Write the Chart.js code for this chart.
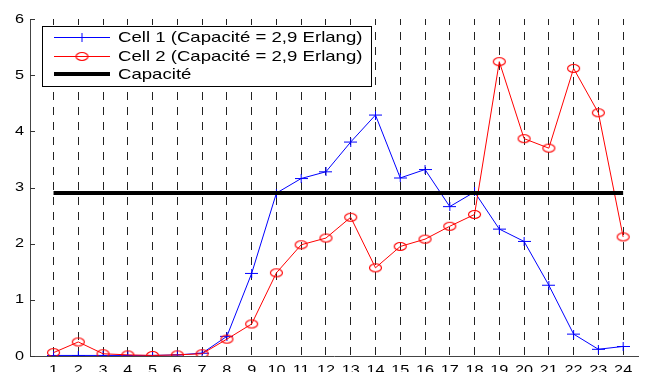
<!DOCTYPE html>
<html>
<head>
<meta charset="utf-8">
<script src="https://cdn.jsdelivr.net/npm/chart.js@4.4.0/dist/chart.umd.min.js"></script>
<style>
  html, body { margin: 0; padding: 0; background: #fff; }
</style>
</head>
<body>
<canvas id="chart1" width="645" height="372"></canvas>
<script>
// hours of the day
const hours = [1, 2, 3, 4, 5, 6, 7, 8, 9, 10, 11, 12, 13, 14, 15, 16, 17, 18, 19, 20, 21, 22, 23, 24];
// traffic per cell (Erlang)
const cell1 = [0.01, 0.01, 0.01, 0.01, 0.01, 0.02, 0.05, 0.35, 1.47, 2.9, 3.16, 3.28, 3.81, 4.29, 3.17, 3.32, 2.66, 2.92, 2.26, 2.04, 1.26, 0.39, 0.12, 0.17];
const cell2 = [0.06, 0.25, 0.04, 0.02, 0.01, 0.02, 0.04, 0.30, 0.57, 1.48, 1.98, 2.10, 2.47, 1.57, 1.95, 2.08, 2.31, 2.52, 5.24, 3.87, 3.70, 5.12, 4.33, 2.12];
const capacity = [2.9, 2.9, 2.9, 2.9, 2.9, 2.9, 2.9, 2.9, 2.9, 2.9, 2.9, 2.9, 2.9, 2.9, 2.9, 2.9, 2.9, 2.9, 2.9, 2.9, 2.9, 2.9, 2.9, 2.9];
const yTicks = [0, 1, 2, 3, 4, 5, 6];
const legendLabels = ['Cell 1 (Capacité = 2,9 Erlang)', 'Cell 2 (Capacité = 2,9 Erlang)', 'Capacité'];

const blue = '#0000ff';
const red = '#ff0000';
const font = '"Liberation Sans", Arial, sans-serif';
// the original figure is stretched sideways, text included
const stretch = 1.25;

// markers are a bit wider than tall in the original
function plusMarker(color) {
  const c = document.createElement('canvas');
  c.width = 13; c.height = 9;
  const g = c.getContext('2d');
  g.strokeStyle = color; g.lineWidth = 1;
  g.beginPath();
  g.moveTo(0, 4.5); g.lineTo(13, 4.5);
  g.moveTo(6.5, 0); g.lineTo(6.5, 9);
  g.stroke();
  return c;
}
function circleMarker(color) {
  const c = document.createElement('canvas');
  c.width = 15; c.height = 11;
  const g = c.getContext('2d');
  g.strokeStyle = color; g.lineWidth = 1.2;
  g.beginPath();
  g.ellipse(7.5, 5.5, 6, 4, 0, 0, Math.PI * 2);
  g.stroke();
  return c;
}
const plusImg = plusMarker(blue);
const circleImg = circleMarker(red);

const toXY = arr => arr.map((v, i) => ({ x: hours[i], y: v }));

// inward y ticks + stretched tick labels
const axisDeco = {
  id: 'axisDeco',
  afterDatasetsDraw(chart) {
    const ctx = chart.ctx;
    const { x, y } = chart.scales;
    const area = chart.chartArea;
    ctx.save();
    ctx.strokeStyle = '#333';
    ctx.lineWidth = 1;
    ctx.beginPath();
    yTicks.forEach(t => {
      const py = Math.round(y.getPixelForValue(t)) + 0.5;
      ctx.moveTo(area.left, py);
      ctx.lineTo(area.left + 5, py);
    });
    ctx.stroke();

    ctx.fillStyle = '#000';
    ctx.font = '13px ' + font;
    ctx.scale(stretch, 1);
    ctx.textAlign = 'center';
    ctx.textBaseline = 'top';
    hours.forEach(h => ctx.fillText(String(h), x.getPixelForValue(h) / stretch, area.bottom + 8));
    ctx.textAlign = 'right';
    ctx.textBaseline = 'middle';
    yTicks.forEach(t => ctx.fillText(String(t), 24 / stretch, y.getPixelForValue(t)));
    ctx.restore();
  }
};

const boxLegend = {
  id: 'boxLegend',
  afterDraw(chart) {
    const ctx = chart.ctx;
    const bx = 42.5, by = 26.5, bw = 329, bh = 60;
    ctx.save();
    ctx.fillStyle = '#fff';
    ctx.fillRect(bx, by, bw, bh);
    ctx.strokeStyle = '#000';
    ctx.lineWidth = 1;
    ctx.strokeRect(bx, by, bw, bh);

    const rows = [37, 56, 74];
    const sx1 = 54, sx2 = 110, mx = 82;
    // cell 1
    ctx.strokeStyle = blue; ctx.lineWidth = 1;
    ctx.beginPath(); ctx.moveTo(sx1, rows[0] + 0.5); ctx.lineTo(sx2, rows[0] + 0.5); ctx.stroke();
    ctx.drawImage(plusImg, mx - plusImg.width / 2, rows[0] + 0.5 - plusImg.height / 2);
    // cell 2
    ctx.strokeStyle = red;
    ctx.beginPath(); ctx.moveTo(sx1, rows[1] + 0.5); ctx.lineTo(sx2, rows[1] + 0.5); ctx.stroke();
    ctx.drawImage(circleImg, mx - circleImg.width / 2, rows[1] + 0.5 - circleImg.height / 2);
    // capacity
    ctx.strokeStyle = '#000'; ctx.lineWidth = 4;
    ctx.beginPath(); ctx.moveTo(sx1, rows[2]); ctx.lineTo(sx2, rows[2]); ctx.stroke();

    ctx.fillStyle = '#000';
    ctx.font = '15px ' + font;
    ctx.textBaseline = 'middle';
    ctx.scale(1.24, 1);
    legendLabels.forEach((t, i) => ctx.fillText(t, 118 / 1.24, rows[i] + 1));
    ctx.restore();
  }
};

const ctx = document.getElementById('chart1').getContext('2d');
const chart = new Chart(ctx, {
  type: 'line',
  data: {
    datasets: [
      {
        label: legendLabels[0],
        data: toXY(cell1),
        borderColor: blue,
        borderWidth: 1,
        pointStyle: plusImg,
        pointRadius: 6,
        fill: false,
        tension: 0,
        order: 2
      },
      {
        label: legendLabels[1],
        data: toXY(cell2),
        borderColor: red,
        borderWidth: 1,
        pointStyle: circleImg,
        pointRadius: 6,
        fill: false,
        tension: 0,
        order: 1
      },
      {
        label: legendLabels[2],
        data: toXY(capacity),
        borderColor: '#000',
        borderWidth: 4,
        pointRadius: 0,
        fill: false,
        tension: 0,
        order: 0
      }
    ]
  },
  options: {
    responsive: false,
    animation: false,
    layout: { padding: { top: 19, right: 0, bottom: 0, left: 0 } },
    plugins: {
      legend: { display: false },
      tooltip: { enabled: false }
    },
    scales: {
      x: {
        type: 'linear',
        min: 0.05,
        max: 24.6,
        afterBuildTicks: s => { s.ticks = hours.map(h => ({ value: h })); },
        afterFit: s => { s.height = 16; },
        ticks: { display: false },
        grid: { color: '#222', lineWidth: 1, drawTicks: false },
        border: { display: true, color: '#444', width: 1, dash: [8, 7], dashOffset: 2 }
      },
      y: {
        min: 0,
        max: 6,
        afterBuildTicks: s => { s.ticks = yTicks.map(v => ({ value: v })); },
        afterFit: s => { s.width = 30; },
        ticks: { display: false },
        grid: { display: false, drawTicks: false },
        border: { display: true, color: '#444', width: 1 }
      }
    }
  },
  plugins: [axisDeco, boxLegend]
});
</script>
</body>
</html>
